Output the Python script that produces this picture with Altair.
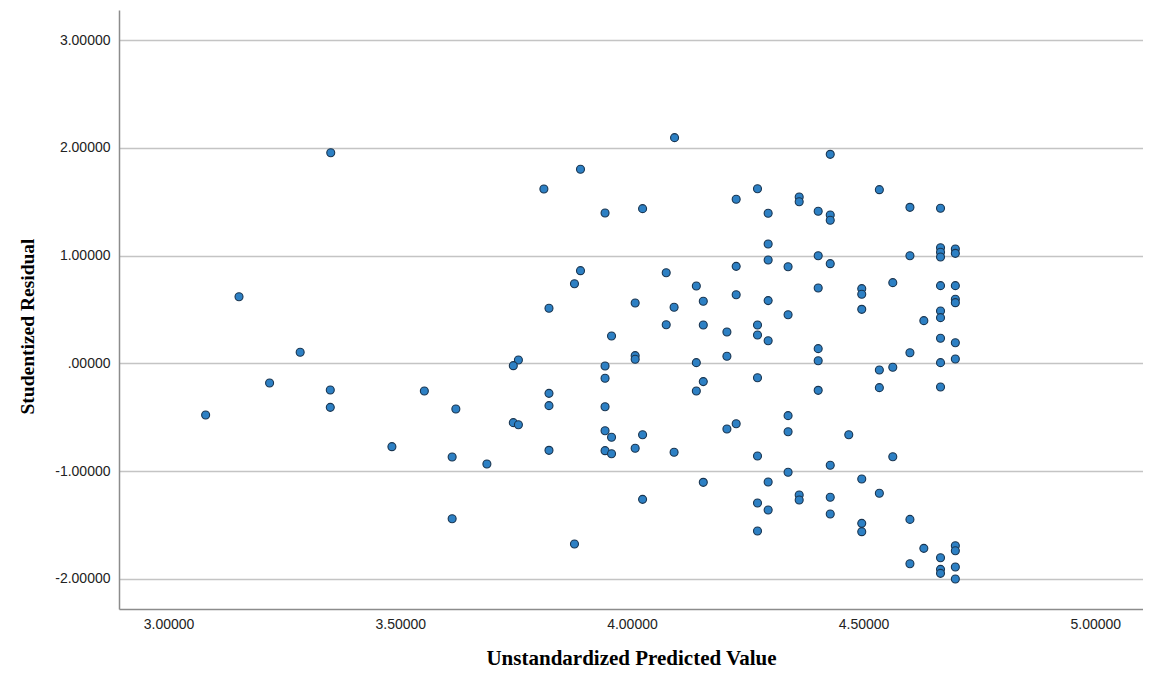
import altair as alt
import pandas as pd

pred = [3.350, 3.152, 3.284, 3.218, 3.349, 3.349, 3.080, 3.552, 3.620, 3.482, 3.612, 3.687, 3.612,
        4.092, 3.889, 3.810, 3.942, 4.023, 3.889, 3.876, 4.074, 4.139, 4.154, 3.821, 4.007, 4.091, 4.074, 4.154, 3.956, 3.755, 3.744, 3.942, 4.007, 4.007, 4.139,
        3.942, 4.154, 4.139, 3.821, 3.821, 3.942, 3.744, 3.755, 3.942, 3.956, 4.023, 3.821, 3.942, 3.956, 4.007, 4.091, 4.154, 4.023, 3.876,
        4.428, 4.271, 4.225, 4.361, 4.361, 4.534, 4.294, 4.402, 4.428, 4.428, 4.600, 4.294, 4.294, 4.402, 4.428, 4.600, 4.225, 4.337, 4.225, 4.294, 4.402, 4.496, 4.496, 4.496, 4.563, 4.337, 4.205, 4.271, 4.271, 4.294, 4.402, 4.402, 4.205, 4.600, 4.534, 4.563,
        4.271, 4.402, 4.534, 4.337, 4.337, 4.205, 4.225, 4.468, 4.271, 4.428, 4.563, 4.337, 4.294, 4.496, 4.534, 4.361, 4.361, 4.428, 4.428, 4.271, 4.294, 4.496, 4.496, 4.271, 4.600, 4.600,
        4.666, 4.666, 4.666, 4.666, 4.698, 4.698, 4.666, 4.698, 4.698, 4.698, 4.666, 4.666, 4.630, 4.666, 4.698, 4.666, 4.698, 4.666, 4.630, 4.698, 4.698, 4.666, 4.698, 4.666, 4.666, 4.698]

resid = [1.955, 0.618, 0.102, -0.183, -0.248, -0.409, -0.480, -0.257, -0.424, -0.774, -0.870, -0.935, -1.443,
         2.095, 1.801, 1.618, 1.396, 1.436, 0.860, 0.739, 0.841, 0.718, 0.576, 0.511, 0.560, 0.520, 0.358, 0.356, 0.253, 0.031, -0.022, -0.025, 0.071, 0.037, 0.006,
         -0.139, -0.170, -0.257, -0.279, -0.393, -0.403, -0.551, -0.570, -0.626, -0.687, -0.663, -0.808, -0.811, -0.839, -0.789, -0.826, -1.105, -1.263, -1.678,
         1.940, 1.621, 1.523, 1.544, 1.500, 1.612, 1.393, 1.411, 1.377, 1.328, 1.448, 1.108, 0.959, 0.999, 0.925, 0.999, 0.900, 0.897, 0.637, 0.582, 0.699, 0.693, 0.641, 0.501, 0.749, 0.451, 0.291, 0.356, 0.263, 0.210, 0.136, 0.024, 0.065, 0.098, -0.062, -0.036,
         -0.134, -0.251, -0.226, -0.486, -0.635, -0.610, -0.561, -0.663, -0.861, -0.947, -0.867, -1.012, -1.102, -1.074, -1.207, -1.223, -1.269, -1.244, -1.399, -1.297, -1.362, -1.486, -1.563, -1.557, -1.449, -1.861,
         1.439, 1.073, 1.031, 0.987, 1.061, 1.021, 0.721, 0.721, 0.594, 0.563, 0.486, 0.424, 0.396, 0.232, 0.191, 0.006, 0.040, -0.220, -1.718, -1.694, -1.740, -1.805, -1.891, -1.913, -1.950, -2.003]

x_ticks = [3.0, 3.5, 4.0, 4.5, 5.0]
y_ticks = [-2, -1, 0, 1, 2, 3]

df = pd.DataFrame({"pred": pred, "resid": resid})

label_font = "Liberation Sans"
title_font = "Liberation Serif"

chart = alt.Chart(df).mark_circle(
    size=64, fill="#2d80c4", stroke="#1a3550", strokeWidth=1.1, opacity=1
).encode(
    x=alt.X(
        "pred:Q",
        scale=alt.Scale(domain=[2.893, 5.103], nice=False, zero=False),
        axis=alt.Axis(
            title="Unstandardized Predicted Value",
            values=x_ticks,
            labelExpr="format(datum.value, '.5f')",
            grid=False,
            ticks=False,
            labelPadding=8,
            labelFlush=False,
            labelFont=label_font,
            labelFontSize=14,
            labelColor="#222222",
            domainColor="#8c8c8c",
            domainWidth=1.5,
            titleFont=title_font,
            titleFontSize=21,
            titleFontWeight="bold",
            titleColor="#000000",
            titleBaseline="alphabetic",
            titleY=55,
        ),
    ),
    y=alt.Y(
        "resid:Q",
        scale=alt.Scale(domain=[-2.281, 3.28], nice=False, zero=False),
        axis=alt.Axis(
            title="Studentized Residual",
            values=y_ticks,
            labelExpr="datum.value == 0 ? '.00000' : (datum.value < 0 ? '-' : '') + format(abs(datum.value), '.5f')",
            grid=True,
            gridColor="#c4c4c4",
            gridWidth=1.5,
            ticks=False,
            labelPadding=9,
            labelFont=label_font,
            labelFontSize=14,
            labelColor="#222222",
            domainColor="#8c8c8c",
            domainWidth=1.5,
            titleFont=title_font,
            titleFontSize=19.5,
            titleFontWeight="bold",
            titleColor="#000000",
            titleBaseline="alphabetic",
            titleAngle=270,
            titleX=-86,
            titleY=316,
        ),
    ),
).properties(
    width=1024,
    height=599,
    padding={"left": 111, "top": 2, "right": 0, "bottom": 60},
    autosize="none",
).configure_view(strokeWidth=0)

chart.save("out.html", embed_options={"renderer": "svg", "actions": False})
